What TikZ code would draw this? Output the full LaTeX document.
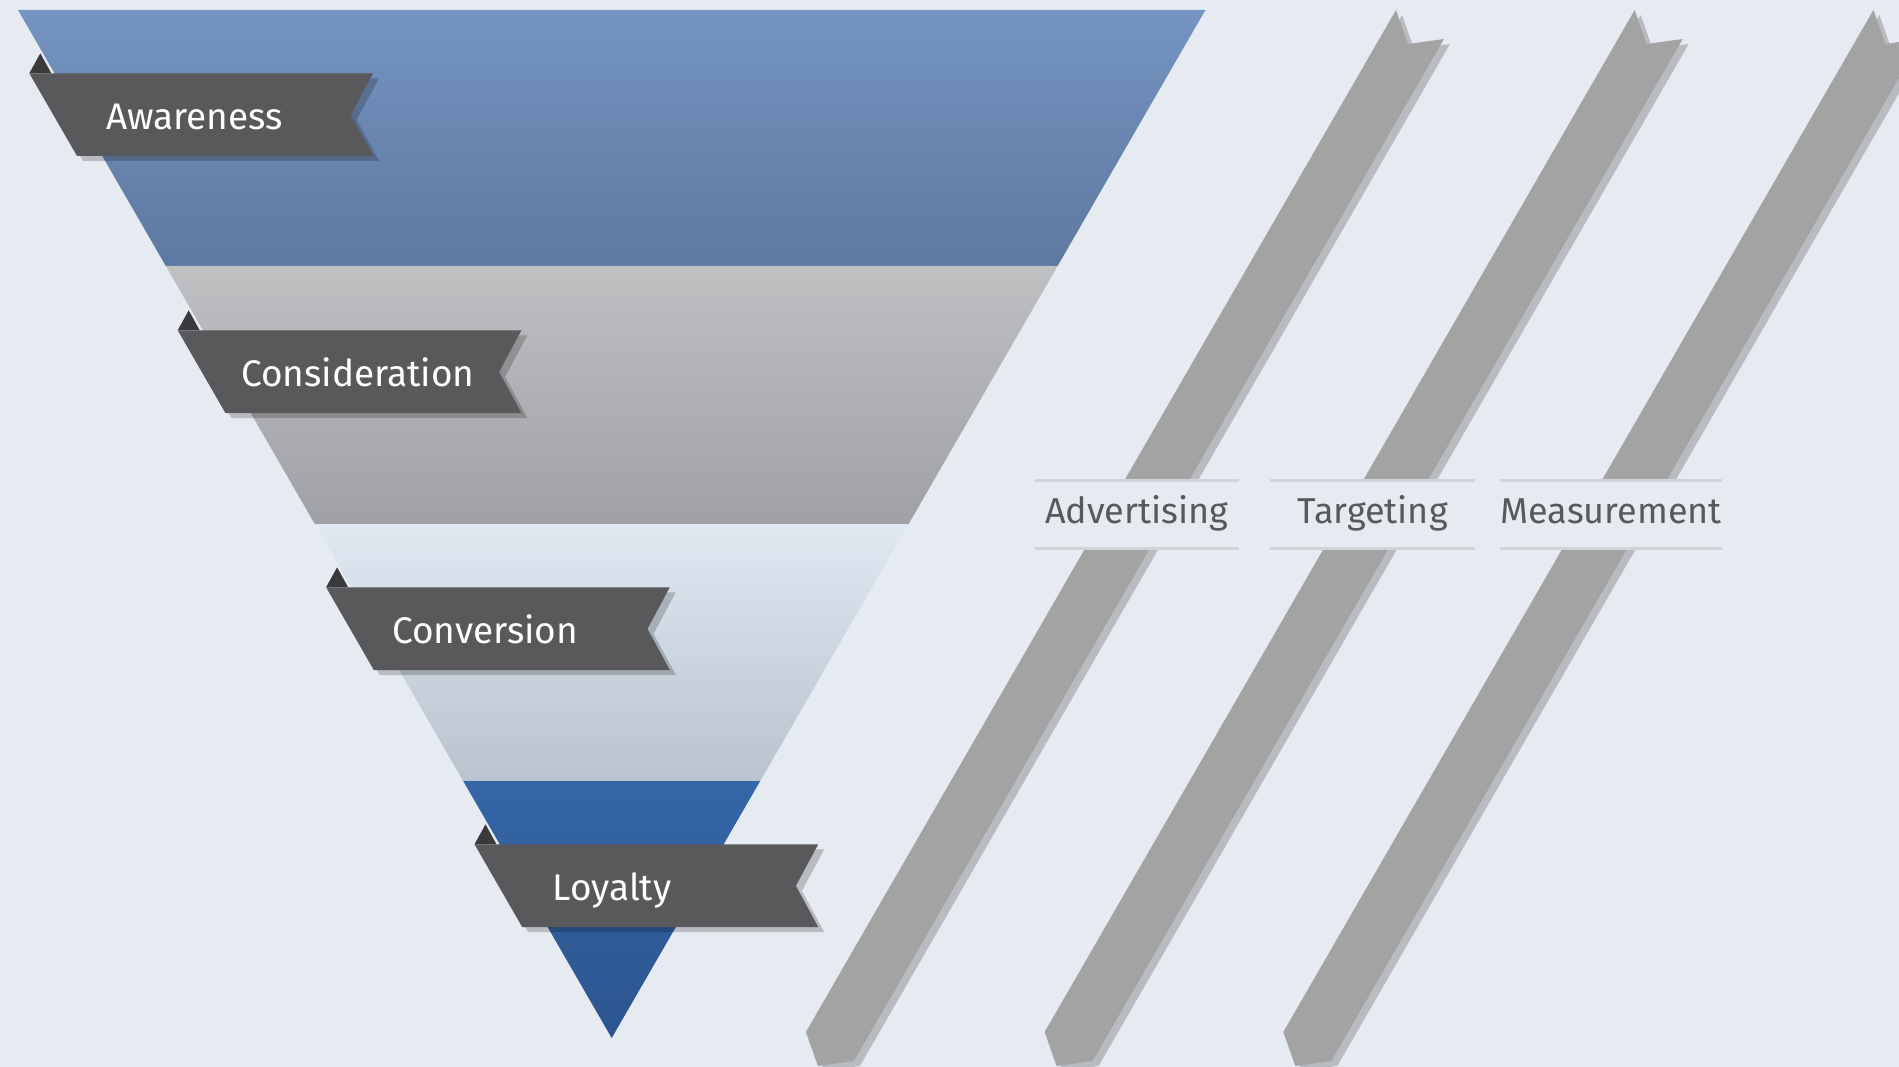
\documentclass[tikz,border=0pt]{standalone}
\usepackage{fontspec}
\setmainfont{Fira Sans}
\definecolor{bg}{HTML}{E6EBF2}
\definecolor{awTop}{HTML}{7594C1}
\definecolor{awBot}{HTML}{5E79A1}
\definecolor{coTop}{HTML}{BFC0C2}
\definecolor{coBot}{HTML}{A0A1A5}
\definecolor{cvTop}{HTML}{E0E9F2}
\definecolor{cvMid}{HTML}{D3DEE8}
\definecolor{cvBot}{HTML}{B8C3CE}
\definecolor{loTop}{HTML}{3566A6}
\definecolor{loBot}{HTML}{2B558F}
\definecolor{ribbongray}{HTML}{59595B}
\definecolor{foldgray}{HTML}{3A3A3C}
\definecolor{bargray}{HTML}{A3A3A3}
\definecolor{rulegray}{HTML}{D0D3D7}
\definecolor{labelgray}{HTML}{58595B}
\begin{document}
\begin{tikzpicture}[x=1pt,y=-1pt,
  dropshadow/.style={fill=black,fill opacity=0.2},
  ribbonbody/.style={fill=ribbongray},
  ribbonfold/.style={fill=foldgray},
  ribbontext/.style={text=white,font=\fontsize{37}{40}\selectfont,
    inner sep=0pt,text height=26pt,text depth=0pt},
  barbody/.style={fill=bargray},
  labelbox/.style={fill=bg,inner sep=0pt,minimum width=204pt,minimum height=67.6pt,
    text=labelgray,font=\fontsize{36}{40}\selectfont,text height=25pt,text depth=7pt},
  labelrule/.style={draw=rulegray,line width=2.2pt}]

\useasboundingbox (0,0) rectangle (1899,1067);
\clip (0,0) rectangle (1899,1067);
\fill[bg] (0,0) rectangle (1899,1067);

% funnel bands
\shade[top color=awTop,bottom color=awBot]
  (18,10) -- (1205.4,10) -- (1057.6,266) -- (165.8,266) -- cycle;
\shade[top color=coTop,bottom color=coBot]
  (165.8,266) -- (1057.6,266) -- (908.6,524) -- (314.8,524) -- cycle;
\shade[top color=cvTop,middle color=cvMid,bottom color=cvBot]
  (314.8,524) -- (908.6,524) -- (760.2,781) -- (463.2,781) -- cycle;
\shade[top color=loTop,bottom color=loBot]
  (463.2,781) -- (760.2,781) -- (611.7,1038) -- cycle;

% stage ribbons
\foreach \k in {0,1,2,3}{
  \begin{scope}[shift={(29.3+148.4*\k,73.3+257*\k)}]
    \fill[dropshadow,shift={(6,5)}]
      (0,0) -- (343.7,0) -- (321.4,41.5) -- (343.7,82.7) -- (47.7,82.7) -- cycle;
    \fill[ribbonfold] (0,0) -- (11,-20) -- (22,0) -- cycle;
    \fill[ribbonbody]
      (0,0) -- (343.7,0) -- (321.4,41.5) -- (343.7,82.7) -- (47.7,82.7) -- cycle;
  \end{scope}
}
\node[ribbontext] (aw) at (194.5,116.5) {Awareness};
\node[ribbontext] (co) at (357.8,373.5) {Consideration};
\node[ribbontext] (cv) at (485,630.5) {Conversion};
\node[ribbontext] (lo) at (612,887.5) {Loyalty};

% diagonal strips
\foreach \k in {0,1,2}{
  \begin{scope}[shift={(238.7*\k,0)}]
    \fill[dropshadow,shift={(6,5)}]
      (1396,10) -- (1408,44) -- (1444,39) -- (853.9,1061) -- (817.9,1066) -- (805.9,1032) -- cycle;
    \fill[barbody]
      (1396,10) -- (1408,44) -- (1444,39) -- (853.9,1061) -- (817.9,1066) -- (805.9,1032) -- cycle;
  \end{scope}
}

% strip labels
\node[labelbox] (adv) at (1136.7,514.5) {Advertising};
\node[labelbox] (tgt) at (1372.5,514.5) {Targeting};
\node[labelbox] (msr) at (1611.2,514.5) {Measurement};
\foreach \n in {adv,tgt,msr}{
  \draw[labelrule] (\n.north west) -- (\n.north east);
  \draw[labelrule] (\n.south west) -- (\n.south east);
}
\end{tikzpicture}
\end{document}
